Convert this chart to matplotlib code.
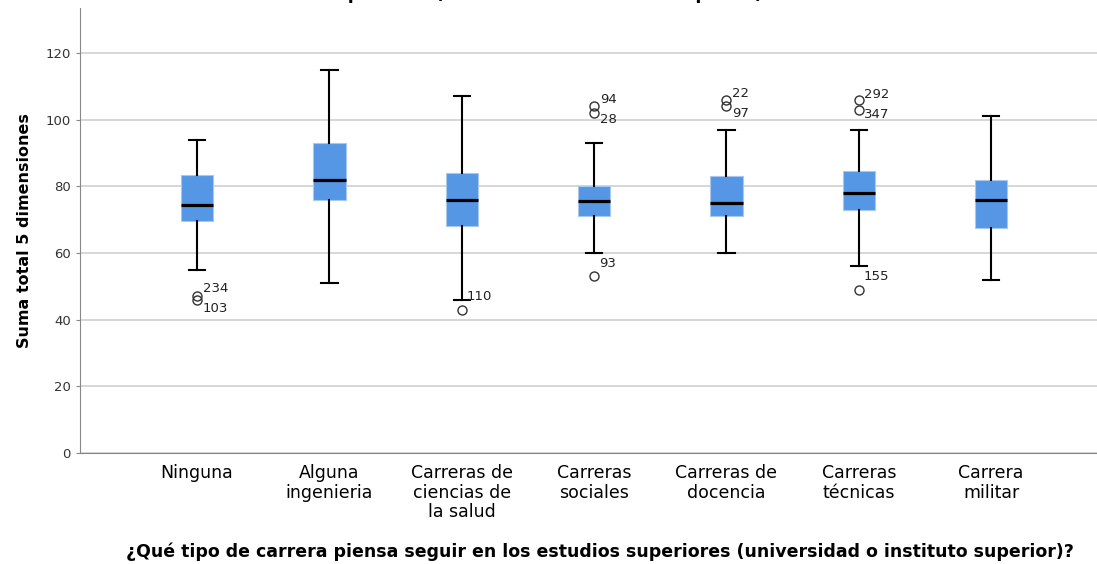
import numpy as np
import matplotlib.pyplot as plt

plt.rcParams['font.family'] = ['DejaVu Sans']

# Datos
categorias = ['Ninguna', 'Alguna\ningenieria', 'Carreras de\nciencias de\nla salud',
              'Carreras\nsociales', 'Carreras de\ndocencia', 'Carreras\ntécnicas',
              'Carrera\nmilitar']
whisker_bajo = [55, 51, 46, 60, 60, 56, 52]
q1 = [69.5, 76, 68, 71, 71, 73, 67.5]
mediana = [74.5, 82, 76, 75.5, 75, 78, 76]
q3 = [83.5, 93, 84, 80, 83, 84.5, 82]
whisker_alto = [94, 115, 107, 93, 97, 97, 101]
atipicos = [[47, 46], [], [43], [104, 102, 53], [106, 104], [106, 103, 49], []]
atipicos_id = [['234', '103'], [], ['110'], ['94', '28', '93'], ['22', '97'],
               ['292', '347', '155'], []]

stats = []
for i in range(len(categorias)):
    stats.append({'whislo': whisker_bajo[i], 'q1': q1[i], 'med': mediana[i],
                  'q3': q3[i], 'whishi': whisker_alto[i], 'fliers': atipicos[i]})

fig = plt.figure(figsize=(10.97, 5.64), dpi=100)
ax = fig.add_axes([0.0729, 0.1968, 0.9271, 0.789])

pos = np.arange(len(categorias))
ax.bxp(stats, positions=pos, widths=0.245, patch_artist=True, capwidths=0.122,
       boxprops=dict(facecolor='#5596e5', edgecolor='#a9c8f0', linewidth=0.8),
       medianprops=dict(color='black', linewidth=2.3),
       whiskerprops=dict(color='black', linewidth=1.5),
       capprops=dict(color='black', linewidth=1.5),
       flierprops=dict(marker='o', markerfacecolor='none', markeredgecolor='#333333',
                       markersize=6.5, markeredgewidth=1.0),
       zorder=3)

# Etiquetas de casos atípicos (pares cercanos se separan arriba/abajo)
for i in range(len(categorias)):
    vals = atipicos[i]
    for j, v in enumerate(vals):
        ids = atipicos_id[i][j]
        pareja = [w for w in vals if abs(w - v) <= 3 and w != v]
        if pareja:
            centro = (v + pareja[0]) / 2
            ly = centro + 3.0 if v > pareja[0] else centro - 3.0
            ax.annotate(ids, (pos[i], ly), xytext=(4, 0), textcoords='offset points',
                        va='center', ha='left', fontsize=9.5, color='#222222')
        else:
            ax.annotate(ids, (pos[i], v), xytext=(3.5, 9.5), textcoords='offset points',
                        va='center', ha='left', fontsize=9.5, color='#222222')

ax.set_xlim(-0.885, 6.80)
ax.set_ylim(0, 133.5)
ax.set_yticks([0, 20, 40, 60, 80, 100, 120])
ax.set_xticks(pos)
ax.set_xticklabels(categorias, fontsize=12.5, linespacing=1.12)
ax.tick_params(axis='x', length=0, pad=8)
ax.tick_params(axis='y', length=3, color='#888888', labelsize=9.5, labelcolor='#333333')
ax.grid(axis='y', color='#d0d0d0', linewidth=1.2, zorder=0)
ax.set_axisbelow(True)
for s in ['top', 'right']:
    ax.spines[s].set_visible(False)
ax.spines['left'].set_color('#888888')
ax.spines['bottom'].set_color('#888888')

ax.set_ylabel('Suma total 5 dimensiones', fontsize=11.5, fontweight='bold', labelpad=10)
fig.text(0.547, 0.022, '¿Qué tipo de carrera piensa seguir en los estudios superiores '
         '(universidad o instituto superior)?', ha='center', va='center',
         fontsize=12.5, fontweight='bold')
# título recortado en el borde superior
fig.text(0.5, 1.01, 'superiores (universidad o instituto superior)?', ha='center',
         va='center', fontsize=12.5, fontweight='bold')

plt.savefig('out.png', dpi=100)
